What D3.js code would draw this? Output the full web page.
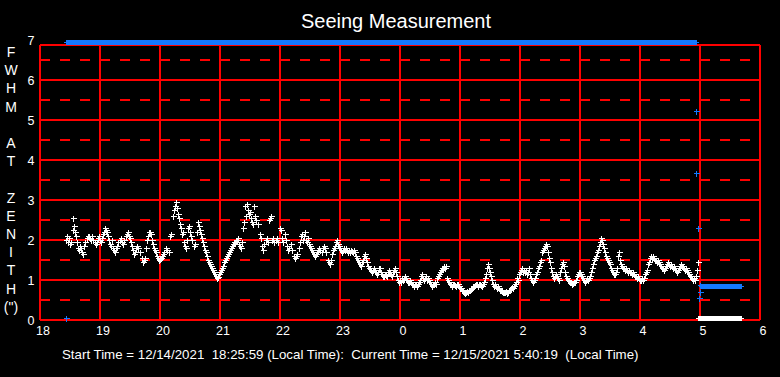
<!DOCTYPE html>
<html>
<head>
<meta charset="UTF-8">
<title>Seeing Measurement</title>
<style>
  body { margin: 0; background: #000; }
  svg { display: block; }
  text { font-family: 'Liberation Sans', Arial, sans-serif; fill: #fff; }
</style>
</head>
<body>
<svg width="780" height="377"></svg>
<script src="https://d3js.org/d3.v7.min.js"></script>
<script>
// x values are minutes after 18:00 local time, y values FWHM in arcsec
const xTickMinutes = [0, 60, 120, 180, 240, 300, 360, 420, 480, 540, 600, 660, 720];
const yTicks = [0, 1, 2, 3, 4, 5, 6, 7];
const yHalfTicks = [0.5, 1.5, 2.5, 3.5, 4.5, 5.5, 6.5];
const axisLetters = ["F", "W", "H", "M", "", "A", "T", "", "Z", "E", "N", "I", "T", "H", "(\")"];

const whiteSeries = [
  [26,2.0],[27,2.1],[28,1.95],[29,2.05],[30,1.9],[31,1.95],[33,2.25],[33,2.55],[34,2.35],[35,2.2],
  [36,2.1],[37,1.95],[38,1.8],[39,1.75],[40,1.85],[41,1.8],[42,1.7],[43,1.65],[44,1.85],[45,1.95],
  [47,2.05],[48,2.1],[49,2.1],[50,2.05],[51,2.0],[52,2.1],[53,2.0],[55,1.95],[56,1.9],[57,1.95],
  [58,2.05],[59,2.1],[60,2.0],[61,1.95],[62,2.05],[63,2.15],[64,2.2],[65,2.3],[66,2.25],[67,2.2],
  [68,2.1],[69,2.0],[70,1.9],[71,1.85],[72,2.0],[73,1.8],[74,1.75],[75,1.7],[76,1.8],[77,1.85],
  [78,1.95],[80,2.0],[81,2.05],[82,1.95],[83,1.9],[84,2.0],[86,2.1],[87,2.15],[88,2.2],[89,2.1],
  [90,2.05],[91,1.95],[92,1.85],[93,1.75],[94,1.65],[95,1.7],[96,1.8],[97,1.85],[98,1.8],[100,1.7],
  [102,1.55],[103,1.45],[104,1.5],[105,1.55],[106,1.8],[107,2.0],[108,2.1],[109,2.2],[110,2.2],[111,2.15],
  [112,2.0],[113,1.9],[114,1.8],[115,1.75],[116,1.7],[117,1.6],[118,1.55],[119,1.5],[120,1.52],[121,1.55],
  [122,1.6],[123,1.65],[124,1.7],[126,1.8],[127,1.75],[129,1.7],[130,2.1],[131,2.15],[133,2.6],[134,2.75],
  [135,2.85],[136,2.95],[137,2.8],[138,2.65],[139,2.55],[140,2.4],[141,2.3],[142,2.15],[143,2.2],[144,1.95],
  [145,1.85],[146,1.8],[147,2.0],[148,2.3],[149,2.35],[150,2.2],[151,2.1],[152,2.0],[154,1.85],[155,1.9],
  [157,2.2],[158,2.45],[159,2.35],[160,2.25],[161,2.15],[162,2.05],[163,1.95],[164,1.85],[165,1.75],[166,1.7],
  [167,1.6],[168,1.5],[169,1.45],[170,1.4],[171,1.35],[172,1.3],[173,1.25],[174,1.2],[175,1.15],[176,1.1],
  [177,1.05],[178,1.08],[179,1.15],[180,1.2],[181,1.25],[182,1.3],[183,1.35],[184,1.45],[185,1.5],[186,1.55],
  [187,1.6],[188,1.65],[189,1.7],[190,1.75],[191,1.8],[192,1.85],[193,1.9],[194,1.95],[195,1.95],[196,2.0],
  [197,2.0],[198,2.05],[199,1.9],[200,1.85],[201,1.8],[202,1.95],[203,2.3],[204,2.45],[205,2.85],[206,2.6],
  [207,2.9],[208,2.75],[209,2.65],[210,2.7],[211,2.55],[212,2.45],[213,2.4],[214,2.85],[215,2.6],[216,2.5],
  [218,2.4],[220,2.15],[221,2.05],[222,1.85],[223,1.75],[224,1.9],[226,2.0],[227,2.05],[228,1.95],[229,2.5],
  [230,2.55],[231,2.6],[232,2.0],[233,2.05],[234,1.95],[236,2.0],[237,2.05],[238,1.95],[240,2.3],[241,2.25],
  [242,2.05],[243,1.95],[245,2.15],[246,2.0],[247,1.85],[248,1.75],[249,1.8],[251,1.9],[252,1.75],[254,1.6],
  [255,1.55],[256,1.6],[257,1.65],[259,1.8],[260,1.95],[261,2.1],[262,2.15],[263,2.0],[264,2.1],[265,2.2],
  [266,2.0],[267,1.95],[268,2.05],[269,1.9],[270,1.85],[271,1.8],[272,1.75],[273,1.7],[274,1.65],[275,1.6],
  [276,1.65],[277,1.7],[278,1.75],[279,1.8],[280,1.75],[282,1.7],[283,1.8],[284,1.85],[285,1.8],[286,1.7],
  [288,1.5],[289,1.45],[290,1.4],[291,1.5],[292,1.65],[293,1.75],[294,1.8],[295,1.85],[296,1.95],[297,2.0],
  [298,1.9],[299,1.85],[300,1.8],[301,1.75],[302,1.7],[303,1.75],[304,1.8],[305,1.75],[306,1.8],[307,1.75],
  [308,1.7],[309,1.75],[310,1.7],[311,1.75],[312,1.72],[313,1.7],[314,1.75],[315,1.7],[316,1.6],[317,1.55],
  [318,1.5],[319,1.45],[320,1.4],[321,1.35],[322,1.45],[323,1.5],[324,1.6],[325,1.65],[326,1.55],[327,1.45],
  [328,1.35],[329,1.3],[330,1.3],[331,1.25],[332,1.2],[333,1.25],[334,1.3],[335,1.25],[336,1.2],[337,1.15],
  [338,1.2],[339,1.3],[340,1.3],[341,1.2],[342,1.15],[343,1.1],[344,1.1],[345,1.15],[346,1.12],[347,1.1],
  [348,1.2],[349,1.25],[350,1.2],[351,1.15],[352,1.1],[353,1.2],[354,1.25],[355,1.3],[356,1.2],[357,1.1],
  [358,1.0],[359,0.95],[360,1.0],[361,0.95],[362,1.05],[363,1.0],[364,1.05],[365,1.1],[366,1.05],[367,1.0],
  [368,0.95],[369,0.95],[370,1.0],[371,0.95],[372,0.9],[373,0.9],[374,0.85],[375,0.9],[376,0.9],[377,0.85],
  [378,0.9],[379,0.95],[380,1.0],[381,1.1],[382,1.15],[383,1.05],[384,1.0],[385,1.05],[386,1.1],[387,1.0],
  [388,1.05],[389,1.0],[390,0.95],[391,0.9],[392,0.85],[393,0.9],[394,0.9],[395,0.95],[396,0.9],[397,1.05],
  [398,1.1],[399,1.15],[400,1.2],[401,1.25],[402,1.3],[403,1.3],[404,1.35],[405,1.3],[406,1.35],[407,1.05],
  [408,1.0],[409,0.95],[410,0.9],[411,0.9],[412,0.85],[413,0.9],[414,0.9],[415,0.88],[416,0.85],[417,0.9],
  [418,0.9],[419,0.85],[420,0.8],[421,0.8],[422,0.75],[423,0.72],[424,0.7],[425,0.68],[426,0.7],[427,0.72],
  [428,0.7],[429,0.75],[430,0.75],[431,0.8],[432,0.8],[433,0.85],[434,0.85],[435,0.88],[436,0.9],[437,0.9],
  [438,0.85],[439,0.9],[440,0.9],[441,0.88],[442,0.85],[443,0.9],[444,0.95],[445,1.05],[446,1.15],[447,1.3],
  [448,1.4],[449,1.3],[450,1.2],[451,1.1],[452,1.0],[453,0.9],[454,0.85],[455,0.9],[456,0.85],[457,0.8],
  [458,0.85],[459,0.8],[460,0.75],[461,0.75],[462,0.72],[463,0.7],[464,0.7],[465,0.7],[466,0.72],[467,0.68],
  [468,0.7],[469,0.75],[470,0.75],[471,0.8],[472,0.82],[473,0.8],[474,0.85],[475,0.9],[476,0.95],[477,1.05],
  [478,1.0],[479,1.15],[480,1.2],[481,1.25],[482,1.3],[483,1.2],[484,1.25],[485,1.2],[486,1.25],[487,1.15],
  [488,1.2],[489,1.3],[490,1.15],[491,1.05],[492,1.0],[493,0.95],[494,1.0],[495,1.05],[496,1.15],[497,1.2],
  [498,1.3],[499,1.35],[500,1.45],[501,1.5],[502,1.7],[503,1.75],[504,1.8],[505,1.85],[506,1.9],[507,1.85],
  [508,1.7],[509,1.55],[510,1.45],[511,1.3],[512,1.2],[513,1.1],[514,1.05],[515,1.1],[516,1.15],[517,1.1],
  [518,1.05],[519,1.0],[520,1.2],[521,1.3],[522,1.4],[523,1.45],[524,1.35],[525,1.2],[526,1.1],[527,1.05],
  [528,1.0],[529,0.98],[530,0.95],[531,0.95],[532,0.9],[533,0.92],[534,0.95],[535,0.95],[536,1.0],[537,1.1],
  [538,1.15],[539,1.2],[540,1.2],[541,1.15],[542,1.1],[543,1.05],[544,1.0],[545,0.95],[546,1.0],[547,1.05],
  [548,1.0],[549,1.05],[550,1.1],[551,1.2],[552,1.3],[553,1.4],[554,1.5],[555,1.55],[556,1.6],[557,1.7],
  [558,1.75],[559,1.85],[560,1.95],[561,2.05],[562,2.0],[563,1.9],[564,1.8],[565,1.7],[566,1.6],[567,1.55],
  [568,1.5],[569,1.45],[570,1.4],[571,1.3],[572,1.25],[573,1.2],[574,1.15],[575,1.15],[576,1.2],[577,1.3],
  [578,1.6],[579,1.7],[580,1.5],[581,1.4],[582,1.35],[583,1.3],[584,1.3],[585,1.25],[586,1.3],[587,1.25],
  [588,1.2],[589,1.25],[590,1.2],[591,1.2],[592,1.15],[593,1.2],[594,1.15],[595,1.1],[596,1.1],[597,1.05],
  [598,1.1],[599,1.05],[600,1.0],[601,1.0],[602,1.05],[603,1.0],[604,1.05],[605,1.15],[606,1.2],[607,1.25],
  [608,1.4],[609,1.45],[610,1.55],[611,1.6],[612,1.55],[613,1.6],[614,1.55],[615,1.5],[616,1.5],[617,1.45],
  [618,1.5],[619,1.45],[620,1.4],[621,1.35],[622,1.3],[623,1.3],[624,1.25],[625,1.3],[626,1.35],[627,1.4],
  [628,1.45],[629,1.4],[630,1.35],[631,1.4],[632,1.35],[633,1.3],[634,1.35],[635,1.3],[636,1.25],[637,1.2],
  [638,1.25],[639,1.3],[640,1.35],[641,1.4],[642,1.35],[643,1.35],[644,1.3],[645,1.25],[646,1.3],[647,1.25],
  [648,1.2],[649,1.15],[650,1.1],[651,1.1],[652,1.05],[653,1.0],[654,1.05],[655,1.0],[656,1.1],[657,1.25],
  [658,1.45]
];

// isolated blue readings
const blueSeries = [[26,0.04],[656,5.22],[656,3.67],[658,2.3],[660,0.88],[660,0.71],[659,0.56]];
// continuous runs of readings (start minute, end minute, value)
const blueRuns = [[26, 656, 6.94], [661, 701, 0.86]];
const whiteRuns = [[658, 701, 0.04]];

const title = "Seeing Measurement";
const footer = "Start Time = 12/14/2021  18:25:59 (Local Time):  Current Time = 12/15/2021 5:40:19  (Local Time)";

const width = 780, height = 377;
const svg = d3.select("svg").attr("viewBox", `0 0 ${width} ${height}`);
svg.append("rect").attr("width", width).attr("height", height).attr("fill", "#000");

const x = d3.scaleLinear().domain([0, 720]).range([40, 760]);
const y = d3.scaleLinear().domain([0, 7]).range([320, 40]);
const plotTop = 45;

const grid = svg.append("g").attr("stroke", "#ff0000").attr("shape-rendering", "crispEdges");

grid.selectAll(".h").data(yTicks.filter(d => y(d) >= plotTop)).enter().append("line")
    .attr("x1", x(0)).attr("x2", x(720))
    .attr("y1", d => y(d)).attr("y2", d => y(d))
    .attr("stroke-width", 1.5);

grid.selectAll(".hd").data(yHalfTicks).enter().append("line")
    .attr("x1", x(0)).attr("x2", x(720))
    .attr("y1", d => y(d)).attr("y2", d => y(d))
    .attr("stroke-width", 1.5)
    .attr("stroke-dasharray", "10,10");

grid.selectAll(".v").data(xTickMinutes).enter().append("line")
    .attr("x1", d => x(d)).attr("x2", d => x(d))
    .attr("y1", plotTop).attr("y2", y(0))
    .attr("stroke-width", 1.5);

grid.append("line")
    .attr("x1", x(0)).attr("x2", x(720))
    .attr("y1", plotTop).attr("y2", plotTop)
    .attr("stroke-width", 1.5);

// title
svg.append("text")
    .attr("x", 396).attr("y", 28)
    .attr("text-anchor", "middle")
    .style("font-size", "20px")
    .text(title);

// y tick labels
svg.selectAll(".yl").data(yTicks).enter().append("text")
    .attr("x", 31).attr("y", d => y(d) + 4.5)
    .attr("text-anchor", "middle")
    .style("font-size", "12.5px")
    .text(d => d);

// x tick labels (clock hours)
svg.selectAll(".xl").data(xTickMinutes).enter().append("text")
    .attr("x", d => x(d) + 3).attr("y", 335)
    .attr("text-anchor", "middle")
    .style("font-size", "12.5px")
    .text(d => (18 + d / 60) % 24);

// vertical axis title, one letter per line
svg.selectAll(".al").data(axisLetters).enter().append("text")
    .attr("x", 11).attr("y", (d, i) => 57 + i * 18.2)
    .attr("text-anchor", "middle")
    .style("font-size", "14px")
    .text(d => d);

// footer
svg.append("text")
    .attr("x", 62).attr("y", 359)
    .style("font-size", "13.3px")
    .style("white-space", "pre")
    .text(footer);

const plus = "M-3,0H3M0,-3V3";
const px = v => Math.round(v) + 0.5;

function drawRuns(runs, color) {
    let g = svg.append("g").attr("shape-rendering", "crispEdges");
    g.selectAll("rect").data(runs).enter().append("rect")
        .attr("x", d => px(x(d[0])) - 0.5)
        .attr("width", d => x(d[1]) - x(d[0]) + 1)
        .attr("y", d => px(y(d[2])) - 2.5)
        .attr("height", 5)
        .attr("fill", color);
    g.selectAll("path").data(runs.flatMap(d => [[d[0], d[2]], [d[1], d[2]]])).enter().append("path")
        .attr("transform", d => `translate(${px(x(d[0]))},${px(y(d[1]))})`)
        .attr("d", "M-2.5,0H2.5M0,-2.5V2.5")
        .attr("stroke", color)
        .attr("stroke-width", 1);
}

function drawPoints(data, color) {
    svg.append("g").attr("shape-rendering", "crispEdges")
        .selectAll("path").data(data).enter().append("path")
        .attr("transform", d => `translate(${px(x(d[0]))},${px(y(d[1]))})`)
        .attr("d", plus)
        .attr("stroke", color)
        .attr("stroke-width", 1.3);
}

drawRuns(blueRuns, "#1478ff");
drawRuns(whiteRuns, "#ffffff");
drawPoints(whiteSeries, "#ffffff");
drawPoints(blueSeries, "#1478ff");
</script>
</body>
</html>
